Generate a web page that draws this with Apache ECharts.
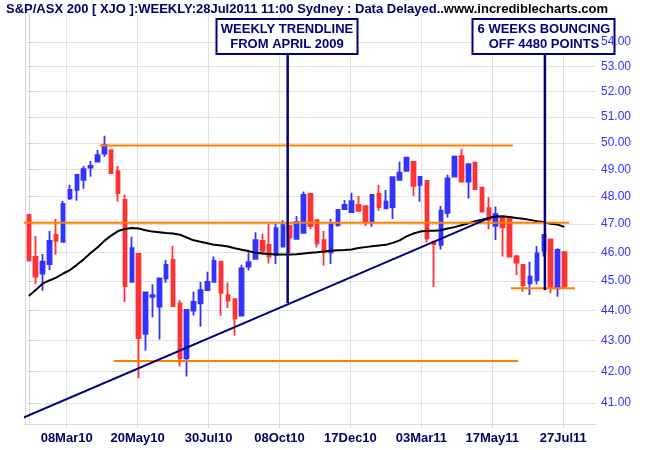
<!DOCTYPE html>
<html>
<head>
<meta charset="utf-8">
<script src="https://cdn.jsdelivr.net/npm/echarts@6/dist/echarts.min.js"></script>
<style>
html,body{margin:0;padding:0;background:#fff;}
#chart{width:650px;height:450px;}
</style>
</head>
<body>
<div id="chart"></div>
<script>
// ---- weekly candles (week start dates) ----
const weeks = ['25Jan10','01Feb10','08Feb10','15Feb10','22Feb10','01Mar10','08Mar10','15Mar10','22Mar10','29Mar10',
 '05Apr10','12Apr10','19Apr10','26Apr10','03May10','10May10','17May10','24May10','31May10','07Jun10',
 '14Jun10','21Jun10','28Jun10','05Jul10','12Jul10','19Jul10','26Jul10','02Aug10','09Aug10','16Aug10',
 '23Aug10','30Aug10','06Sep10','13Sep10','20Sep10','27Sep10','04Oct10','11Oct10','18Oct10','25Oct10',
 '01Nov10','08Nov10','15Nov10','22Nov10','29Nov10','06Dec10','13Dec10','20Dec10','27Dec10','03Jan11',
 '10Jan11','17Jan11','24Jan11','31Jan11','07Feb11','14Feb11','21Feb11','28Feb11','07Mar11','14Mar11',
 '21Mar11','28Mar11','04Apr11','11Apr11','18Apr11','25Apr11','02May11','09May11','16May11','23May11',
 '30May11','06Jun11','13Jun11','20Jun11','27Jun11','04Jul11','11Jul11','18Jul11','25Jul11'];

const openV = [47.33,45.84,45.26,45.59,46.61,46.37,47.93,48.24,48.61,49.07,
 49.29,49.60,49.73,48.94,47.87,44.97,45.94,43.22,44.46,44.13,
 45.09,45.73,44.24,42.42,44.00,44.24,44.69,44.97,45.67,44.52,
 44.38,43.83,45.50,45.77,46.40,46.26,45.91,46.20,46.93,46.47,
 46.69,48.09,47.14,46.43,45.99,46.96,47.54,47.43,47.69,47.65,
 47.05,48.09,47.57,47.61,48.61,48.95,49.28,48.43,48.57,46.37,
 46.26,47.40,48.73,49.50,48.55,49.25,48.32,47.57,46.94,47.26,
 47.24,45.85,45.56,44.92,45.03,46.06,46.45,44.75,46.00];
const closeV = [45.71,45.15,45.67,46.40,46.40,47.73,48.24,48.80,49.01,49.13,
 49.54,49.92,48.86,48.12,44.83,46.14,43.08,44.61,44.52,45.09,
 45.56,44.15,42.42,44.02,44.29,44.69,44.97,45.70,44.60,44.33,
 43.74,45.44,45.65,46.43,46.05,45.85,46.85,46.96,46.53,47.07,
 48.06,46.93,46.31,46.00,47.00,47.51,47.69,47.83,47.48,47.08,
 48.06,47.61,47.81,48.71,48.88,49.44,48.39,48.72,46.49,46.29,
 47.48,48.67,49.48,48.55,49.20,48.27,47.45,47.14,47.36,46.88,
 45.85,45.64,44.86,45.15,45.96,46.61,44.78,46.08,44.80];
const lowV = [45.71,44.89,44.67,45.38,45.91,46.37,47.87,47.84,48.28,48.73,
 49.28,49.48,48.86,47.81,44.29,44.97,41.78,42.67,43.77,43.04,
 44.94,44.13,42.16,41.84,43.83,43.46,44.69,44.97,43.82,44.08,
 43.16,43.83,45.36,45.77,45.91,45.61,45.59,46.20,45.98,46.47,
 46.69,46.81,46.17,45.53,45.59,46.90,47.54,47.43,47.48,46.93,
 46.90,47.48,47.57,47.18,48.61,48.95,48.02,47.81,46.34,44.80,
 46.10,47.24,48.73,48.55,47.93,48.27,47.45,46.81,46.43,45.85,
 45.83,45.21,44.63,44.52,44.89,45.85,44.58,44.46,44.80];
const highV = [47.33,46.57,45.94,46.75,47.18,47.83,48.43,48.80,49.13,49.32,
 49.73,50.28,49.73,49.13,48.06,46.55,45.94,44.61,44.89,45.09,
 45.73,46.22,44.35,44.02,44.63,44.97,45.32,45.85,45.67,44.95,
 44.38,45.56,46.00,46.71,46.65,47.00,47.00,47.14,46.93,47.29,
 48.18,48.09,47.14,46.75,47.18,47.51,47.87,48.14,48.02,47.65,
 48.06,48.43,48.24,48.71,49.29,49.48,49.28,48.72,48.57,46.37,
 47.65,48.80,49.52,49.77,49.20,49.25,48.32,47.97,47.63,47.26,
 47.24,45.91,45.56,45.67,46.22,46.61,46.45,46.14,46.00];
// moving average (black line)
const maV = [44.49,44.69,44.91,45.02,45.12,45.26,45.38,45.56,45.75,45.97,
 46.17,46.40,46.59,46.75,46.82,46.86,46.84,46.78,46.73,46.71,
 46.68,46.66,46.62,46.52,46.42,46.37,46.32,46.26,46.24,46.20,
 46.14,46.09,46.04,45.98,45.96,45.94,45.92,45.92,45.92,45.93,
 45.96,45.98,46.00,46.03,46.05,46.07,46.08,46.10,46.15,46.18,
 46.21,46.24,46.26,46.33,46.42,46.56,46.66,46.73,46.76,46.76,
 46.78,46.84,46.89,46.96,47.03,47.10,47.16,47.22,47.27,47.28,
 47.25,47.22,47.19,47.15,47.10,47.07,47.01,46.98,46.90];

// axis ticks
const xTickPos = [5.52,15.85,26.18,36.51,46.84,57.17,67.50,77.83];
const xTickLabels = ['08Mar10','20May10','30Jul10','08Oct10','17Dec10','03Mar11','17May11','27Jul11'];
const yTicks = [41,42,43,44,45,46,47,48,49,50,51,52,53,54];

// drawn annotation lines: [weekIndex, level]
const trendLine = [[-4.19,40.24],[67.44,47.26]];
const resistTop = [[10.38,49.90],[70.50,49.90]];
const midLevel = [[-4.19,47.05],[78.66,47.05]];
const supportLow = [[12.40,42.34],[71.23,42.34]];
const support4480 = [[70.21,44.75],[79.53,44.75]];
const pointer1 = [[37.70,53.51],[37.70,44.25]];
const pointer2 = [[75.16,53.51],[75.16,44.69]];
const note1 = 'WEEKLY TRENDLINE\nFROM APRIL 2009';
const note2 = '6 WEEKS BOUNCING\nOFF 4480 POINTS';

const FONT = 'Liberation Sans, Arial, Helvetica, sans-serif';
const Y_MIN = 40.35, Y_MAX = 55.17;
const X_MIN = -0.55, X_MAX = 82.6;

const candles = weeks.map((w, i) => [i, openV[i], closeV[i], lowV[i], highV[i]]);
const maData = maV.map((v, i) => [i, v]);

function lineSeries(data, color, width, z) {
  return {type:'line', data:data, symbol:'none', clip:false, silent:true, z:z,
    lineStyle:{color:color, width:width}, animation:false};
}

const chart = echarts.init(document.getElementById('chart'), null, {renderer:'canvas'});
const yBase = {type:'log', logBase:10, min:Y_MIN, max:Y_MAX};
chart.setOption({
  animation:false,
  backgroundColor:'#ffffff',
  title:{
    text:'{a|S&P/ASX 200 [ XJO ]:WEEKLY:28Jul2011 11:00 Sydney : Data Delayed..}{b|www.incrediblecharts.com}',
    left:6, top:3, padding:0,
    textStyle:{rich:{
      a:{color:'#000066', fontWeight:'bold', fontSize:13, fontFamily:FONT},
      b:{color:'#000000', fontWeight:'bold', fontSize:13, fontFamily:FONT}
    }}
  },
  grid:{left:25, right:54, top:14, bottom:26},
  xAxis:{
    type:'value', min:X_MIN, max:X_MAX,
    axisLine:{show:true, lineStyle:{color:'#d8d8d8'}},
    axisTick:{show:true, length:4, customValues:xTickPos, lineStyle:{color:'#d8d8d8'}},
    axisLabel:{customValues:xTickPos, margin:8, color:'#000066', fontWeight:'bold', fontSize:13, fontFamily:FONT,
      formatter:function(v){ let k=0,b=1e9; xTickPos.forEach((p,j)=>{ if(Math.abs(p-v)<b){b=Math.abs(p-v);k=j;} }); return xTickLabels[k]; }},
    splitLine:{show:true, lineStyle:{color:'#e0e0e0', width:1}}
  },
  yAxis:[
    Object.assign({}, yBase, {position:'right', z:0,
      axisLine:{show:true, lineStyle:{color:'#d8d8d8'}},
      axisTick:{show:true, length:4, customValues:yTicks, lineStyle:{color:'#c8c8c8'}},
      axisLabel:{show:false, customValues:yTicks},
      splitLine:{show:true, lineStyle:{color:'#e0e0e0', width:1}}}),
    Object.assign({}, yBase, {position:'right', z:10,
      axisLine:{show:false}, axisTick:{show:false, customValues:yTicks},
      axisLabel:{customValues:yTicks, margin:5, color:'#3333ff', fontSize:12, fontFamily:FONT,
        formatter:function(v){ return Number(v).toFixed(2); }},
      splitLine:{show:false}}),
    Object.assign({}, yBase, {position:'left', z:0,
      axisLine:{show:true, lineStyle:{color:'#d8d8d8'}}, axisTick:{show:false},
      axisLabel:{show:false}, splitLine:{show:false}})
  ],
  series:[
    {type:'candlestick', data:candles, barWidth:4, z:2, silent:true,
      itemStyle:{color:'#3333ff', color0:'#ff3333', borderColor:'#3333ff', borderColor0:'#ff3333', borderWidth:1.8}},
    lineSeries(maData, '#000000', 2, 3),
    lineSeries(resistTop, '#ff8000', 2, 4),
    lineSeries(midLevel, '#ff8000', 2, 4),
    lineSeries(supportLow, '#ff8000', 2, 4),
    lineSeries(support4480, '#ff8000', 2, 4),
    lineSeries(trendLine, '#000080', 2, 5),
    lineSeries(pointer1, '#000080', 2.5, 5),
    lineSeries(pointer2, '#000080', 2.5, 5)
  ],
  graphic:[
    {type:'rect', z:6, shape:{x:216.5, y:19, width:141, height:35}, style:{fill:'#ffffff', stroke:'#000080', lineWidth:2}},
    {type:'text', z:7, style:{text:note1, x:287, y:36.5, align:'center', verticalAlign:'middle', font:'bold 13px ' + FONT, fill:'#000080', lineHeight:15}},
    {type:'rect', z:6, shape:{x:472.5, y:19, width:142, height:35}, style:{fill:'#ffffff', stroke:'#000080', lineWidth:2}},
    {type:'text', z:7, style:{text:note2, x:544, y:36.5, align:'center', verticalAlign:'middle', font:'bold 13px ' + FONT, fill:'#000080', lineHeight:15}}
  ]
});
</script>
</body>
</html>
